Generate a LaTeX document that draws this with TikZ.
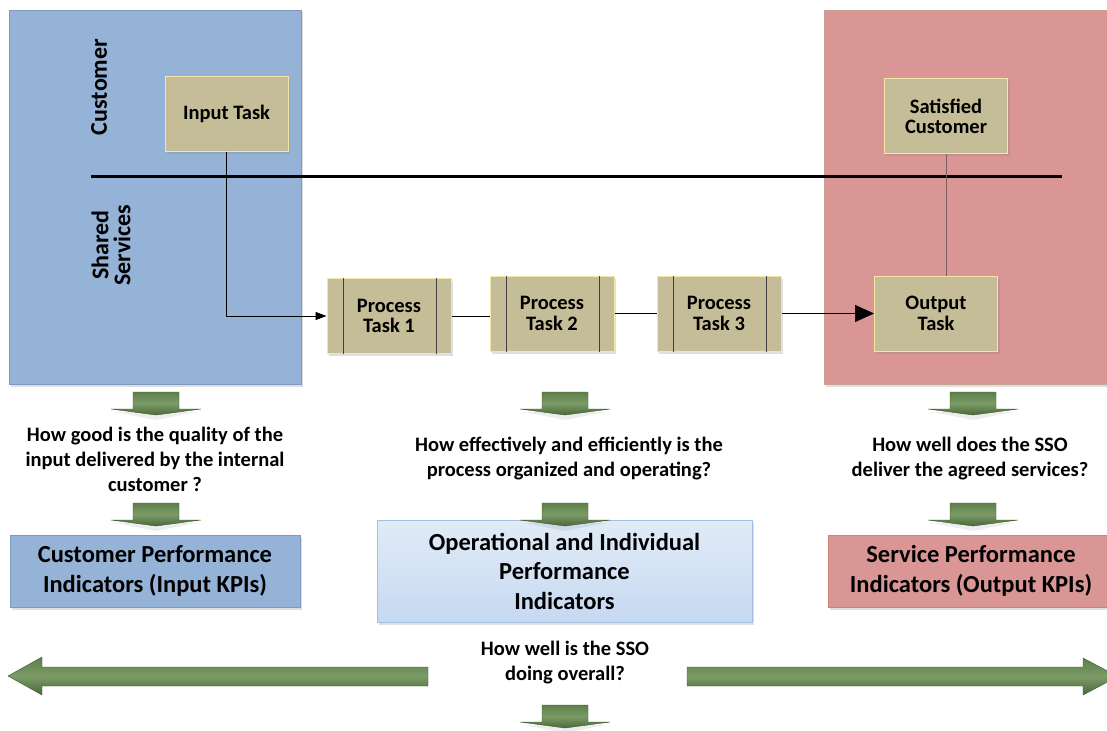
\documentclass[tikz,border=0pt]{standalone}
\usepackage{fontspec}
\setmainfont{Carlito}
\usetikzlibrary{arrows.meta,shadows}

\definecolor{custblue}{HTML}{95B3D7}
\definecolor{custblueline}{HTML}{7D99BF}
\definecolor{servpink}{HTML}{D99694}
\definecolor{servpinkline}{HTML}{C7A391}
\definecolor{taskfill}{HTML}{C4BD97}
\definecolor{taskline}{HTML}{F2E7A6}
\definecolor{gtop}{HTML}{5E7E4B}
\definecolor{glight}{HTML}{7B9B67}
\definecolor{gbottom}{HTML}{4A6839}
\definecolor{gedge}{HTML}{3E5730}
\definecolor{opstop}{HTML}{E1EBF7}
\definecolor{opsbottom}{HTML}{C6D9F1}
\definecolor{opsline}{HTML}{A3BEE0}
\definecolor{linkbrown}{HTML}{7A5E5E}

\tikzset{
  softshadow/.style={drop shadow={opacity=0.25,shadow xshift=2pt,shadow yshift=-2.5pt}},
  lane/.style={draw,line width=0.8pt,softshadow},
  task/.style={draw=taskline,fill=taskfill,line width=1pt,softshadow,
    minimum width=123pt,minimum height=75pt,align=center,inner sep=2pt,
    font=\fontsize{20.5}{20.5}\selectfont\bfseries},
  ptask/.style={task,minimum width=124pt},
  kpi/.style={draw,line width=0.8pt,softshadow,minimum height=72pt,align=center,
    font=\fontsize{24.5}{29.5}\selectfont\bfseries},
  question/.style={align=center,font=\fontsize{20.5}{25}\selectfont\bfseries},
  lanelabel/.style={rotate=90,align=center,font=\fontsize{24}{22}\selectfont\bfseries},
  flow/.style={line width=0.7pt},
  greenbody/.style={top color=gtop,bottom color=gbottom,middle color=glight,
    draw=gedge,line width=0.4pt},
  dnarrow/.pic={
    \fill[black,opacity=0.07] (-40,20) -- (40,20) -- (0,28) -- cycle;
    \shade[greenbody] (-23,0) -- (23,0) -- (23,17) -- (45,17) -- (0,23)
      -- (-45,17) -- (-23,17) -- cycle;
  }
}

\begin{document}
\begin{tikzpicture}[x=1pt,y=-1pt]
\useasboundingbox[fill=white] (0,0) rectangle (1107,730);

% swim lanes
\path[lane,fill=custblue,draw=custblueline] (9,10) rectangle (301,384);
\path[lane,fill=servpink,draw=servpinkline] (824,10) rectangle (1115,384);

% boundary between customer and shared services
\coordinate (sepL) at (91,177);
\coordinate (sepR) at (1062,177);
\draw[line width=3pt] (sepL) -- (sepR);

\node[lanelabel] (lcust) at (99,87) {Customer};
\node[lanelabel] (lshared) at (111,245) {Shared\\Services};

% tasks
\node[task] (in) at (226.5,114) {Input Task};
\node[task] (sat) at (946,116.5) {Satisfied\\Customer};
\node[task] (out) at (936,313.5) {Output\\Task};
\node[ptask] (p1) at (389,316) {Process\\Task 1};
\node[ptask] (p2) at (552,313.5) {Process\\Task 2};
\node[ptask] (p3) at (719,313.5) {Process\\Task 3};

\foreach \p in {p1,p2,p3}{
  \draw[line width=0.7pt,black!75] ([xshift=17pt]\p.north west) -- ([xshift=17pt]\p.south west);
  \draw[line width=0.7pt,black!75] ([xshift=-15pt]\p.north east) -- ([xshift=-15pt]\p.south east);
}

% flow connectors
\draw[flow,-{Triangle[length=11pt,width=8pt]}] (in.south) |- (p1.west);
\draw[flow] (p1.east) -- (p2.west |- p1.east);
\draw[flow] (p2.east) -- (p3.west |- p2.east);
\draw[flow,-{Triangle[length=19pt,width=17pt]}] (p3.east) -- (out.west |- p3.east);
\draw[line width=0.8pt,linkbrown] (out.north -| sat.south) -- (sat.south);

% questions
\pic at (156,392) {dnarrow};
\pic at (565,392) {dnarrow};
\pic at (973,392) {dnarrow};

\node[question] (qin) at (155,459) {How good is the quality of the\\input delivered by the internal\\customer ?};
\node[question] (qops) at (569,458.5) {How effectively and efficiently is the\\process organized and operating?};
\node[question] (qout) at (970,458.5) {How well does the SSO\\deliver the agreed services?};

\pic at (156,503) {dnarrow};
\pic at (973,503) {dnarrow};

% KPI groups
\node[kpi,fill=custblue,draw=custblueline,minimum width=290pt] (kin) at (155,571) {Customer Performance\\Indicators (Input KPIs)};
\node[kpi,top color=opstop,bottom color=opsbottom,draw=opsline,minimum width=375pt,minimum height=102pt] (kops) at (564.5,571) {Operational and Individual\\Performance\\Indicators};
\node[kpi,fill=servpink,draw=servpinkline!80!red,minimum width=286pt] (kout) at (971,571) {Service Performance\\Indicators (Output KPIs)};

\pic at (565,503) {dnarrow};

% overall
\node[question] (qall) at (565,662.5) {How well is the SSO\\doing overall?};

\shade[greenbody] (8,676) -- (42,657) -- (42,667) -- (428,667) -- (428,686)
  -- (42,686) -- (42,695) -- cycle;
\shade[greenbody] (687,667) -- (1083,667) -- (1083,658) -- (1118,676.5)
  -- (1083,695) -- (1083,686) -- (687,686) -- cycle;

\pic at (565,705) {dnarrow};
\end{tikzpicture}
\end{document}
